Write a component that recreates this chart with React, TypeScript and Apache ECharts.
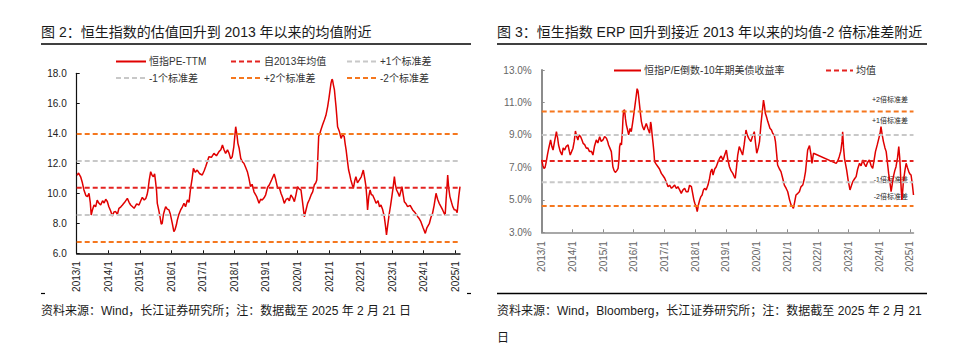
import React, { useEffect, useRef } from "react";
import * as echarts from "echarts";

// ---------- shared ----------
const yearTicks = [2013, 2014, 2015, 2016, 2017, 2018, 2019, 2020, 2021, 2022, 2023, 2024, 2025];

// ---------- chart 2 : HSI PE-TTM ----------
const peYears = [
  2013.01, 2013.06, 2013.125, 2013.18, 2013.23, 2013.29, 2013.34, 2013.39, 2013.43, 2013.46, 2013.5, 2013.55, 2013.6, 2013.65, 2013.7, 2013.76, 2013.82, 2013.87, 2013.92, 2013.97,
  2014.02, 2014.08, 2014.13, 2014.18, 2014.235, 2014.29, 2014.34, 2014.4, 2014.45, 2014.52, 2014.605, 2014.66, 2014.71, 2014.77, 2014.82, 2014.9, 2014.975,
  2015.03, 2015.08, 2015.14, 2015.19, 2015.23, 2015.26, 2015.3, 2015.345, 2015.39, 2015.43, 2015.47, 2015.5, 2015.53, 2015.555, 2015.6, 2015.64, 2015.68, 2015.71, 2015.75, 2015.79, 2015.82, 2015.87, 2015.925, 2015.97,
  2016.03, 2016.08, 2016.12, 2016.16, 2016.19, 2016.24, 2016.295, 2016.35, 2016.4, 2016.45, 2016.51, 2016.56, 2016.61, 2016.66, 2016.7, 2016.76, 2016.82, 2016.9, 2016.98,
  2017.04, 2017.09, 2017.14, 2017.19, 2017.27, 2017.35, 2017.43, 2017.51, 2017.57, 2017.62, 2017.67, 2017.72, 2017.78, 2017.83, 2017.88, 2017.93, 2017.98,
  2018.04, 2018.08, 2018.11, 2018.15, 2018.2, 2018.25, 2018.3, 2018.36, 2018.41, 2018.46, 2018.51, 2018.56, 2018.62, 2018.7, 2018.78, 2018.83, 2018.88, 2018.94, 2018.99,
  2019.05, 2019.105, 2019.18, 2019.26, 2019.31, 2019.37, 2019.42, 2019.475, 2019.53, 2019.58, 2019.64, 2019.69, 2019.74, 2019.79, 2019.85, 2019.9, 2019.95,
  2020.0, 2020.05, 2020.11, 2020.16, 2020.215, 2020.27, 2020.32, 2020.38, 2020.43, 2020.48, 2020.53, 2020.58, 2020.61, 2020.64, 2020.67, 2020.71, 2020.74, 2020.8, 2020.85, 2020.9, 2020.955,
  2021.0, 2021.06, 2021.09, 2021.11, 2021.14, 2021.17, 2021.2, 2021.22, 2021.25, 2021.27, 2021.33, 2021.38, 2021.43, 2021.48, 2021.51, 2021.54, 2021.58, 2021.62, 2021.66, 2021.69, 2021.73, 2021.77, 2021.81, 2021.85, 2021.9, 2021.96,
  2022.02, 2022.085, 2022.13, 2022.17, 2022.2, 2022.22, 2022.26, 2022.3, 2022.34, 2022.38, 2022.44, 2022.49, 2022.55, 2022.6, 2022.645, 2022.7, 2022.75, 2022.79, 2022.82, 2022.86, 2022.91, 2022.95, 2022.99,
  2023.03, 2023.07, 2023.1, 2023.14, 2023.19, 2023.23, 2023.27, 2023.31, 2023.35, 2023.385, 2023.44, 2023.49, 2023.57, 2023.65, 2023.73, 2023.81, 2023.86, 2023.91, 2023.98,
  2024.05, 2024.1, 2024.18, 2024.23, 2024.28, 2024.33, 2024.39, 2024.44, 2024.49, 2024.55, 2024.6, 2024.64, 2024.68, 2024.71, 2024.74, 2024.76, 2024.79, 2024.83, 2024.88, 2024.92, 2024.97,
  2025.02, 2025.06, 2025.11, 2025.15,
];
const peValues = [
  11.2, 11.35, 11.1, 10.7, 10.22, 9.85, 9.78, 10.0, 9.4, 8.55, 8.9, 9.22, 9.1, 9.55, 9.35, 9.22, 9.5, 9.35, 9.6, 9.45,
  9.1, 8.8, 8.49, 8.75, 8.78, 8.6, 9.0, 9.1, 9.22, 9.4, 9.66, 9.4, 9.22, 9.1, 9.0, 9.3, 9.22,
  9.5, 9.73, 9.55, 9.66, 9.9, 10.22, 10.9, 11.44, 11.2, 11.1, 11.3, 10.78, 10.2, 9.33, 8.9, 8.44, 7.95, 8.0, 8.6, 8.9, 9.1, 8.95, 8.89, 8.6,
  8.0, 7.44, 7.6, 7.9, 8.22, 8.6, 8.89, 9.1, 9.33, 9.1, 9.55, 9.4, 10.33, 11.0, 11.66, 11.4, 11.55, 11.3, 11.22,
  11.5, 11.78, 12.1, 12.44, 12.4, 12.66, 12.5, 12.78, 12.9, 13.22, 12.9, 12.66, 12.9, 12.66, 12.3, 12.44, 13.1,
  14.44, 13.9, 13.33, 13.0, 12.33, 12.1, 12.0, 11.7, 11.44, 11.0, 10.44, 10.6, 10.1, 9.8, 9.33, 9.6, 9.55, 9.7, 9.9,
  10.4, 10.55, 10.9, 11.29, 10.9, 10.33, 10.4, 10.0, 9.7, 9.33, 9.6, 9.67, 9.5, 9.89, 9.7, 9.44, 9.9,
  10.44, 10.3, 10.22, 9.4, 8.44, 8.9, 9.33, 9.6, 9.89, 10.1, 10.55, 10.7, 10.89, 12.2, 13.78, 14.0, 14.22, 14.6, 14.89, 15.2, 15.78,
  16.4, 17.33, 17.6, 17.55, 17.2, 16.89, 16.2, 15.78, 15.0, 14.44, 14.1, 13.66, 13.9, 13.78, 13.3, 12.89, 12.2, 11.55, 11.2, 10.89, 10.6, 10.33, 10.8, 11.11, 10.7, 10.89,
  11.1, 11.55, 11.0, 10.44, 9.6, 8.89, 9.8, 10.22, 9.9, 9.89, 9.6, 9.33, 9.5, 9.1, 9.22, 8.9, 8.44, 7.8, 7.22, 7.9, 8.67, 9.2, 9.78,
  10.4, 11.11, 10.6, 10.22, 10.0, 9.78, 10.1, 10.44, 9.9, 9.44, 9.3, 9.11, 9.2, 8.89, 8.7, 8.44, 8.3, 8.11, 7.7,
  7.33, 7.7, 8.0, 8.4, 8.67, 9.2, 10.0, 9.6, 9.33, 9.1, 8.89, 8.7, 8.55, 9.6, 10.5, 11.22, 10.4, 9.78, 9.4, 9.11, 8.9,
  8.89, 8.7, 9.78, 10.44,
];
const peMean = 10.37;
const pePlus1 = 12.15;
const peMinus1 = 8.55;
const pePlus2 = 13.95;
const peMinus2 = 6.75;
const peEnd = 2025.15;

// ---------- chart 3 : HSI ERP ----------
const erpYears = [
  2013.0, 2013.04, 2013.075, 2013.11, 2013.15, 2013.19, 2013.23, 2013.29, 2013.33, 2013.37, 2013.42, 2013.48, 2013.52, 2013.55, 2013.6, 2013.66, 2013.7, 2013.75, 2013.8, 2013.86, 2013.9, 2013.93, 2013.98,
  2014.02, 2014.06, 2014.1, 2014.14, 2014.18, 2014.22, 2014.27, 2014.31, 2014.35, 2014.4, 2014.455, 2014.5, 2014.56, 2014.62, 2014.67, 2014.72, 2014.78, 2014.83, 2014.89, 2014.94, 2014.998,
  2015.05, 2015.11, 2015.15, 2015.18, 2015.22, 2015.27, 2015.32, 2015.36, 2015.4, 2015.45, 2015.49, 2015.52, 2015.54, 2015.57, 2015.6, 2015.63, 2015.65, 2015.67, 2015.7, 2015.73, 2015.76, 2015.8, 2015.835, 2015.88, 2015.92, 2015.96,
  2016.0, 2016.04, 2016.085, 2016.11, 2016.14, 2016.17, 2016.19, 2016.22, 2016.25, 2016.29, 2016.335, 2016.37, 2016.41, 2016.46, 2016.52, 2016.55, 2016.57, 2016.6, 2016.63, 2016.66, 2016.68, 2016.73, 2016.79, 2016.84, 2016.9, 2016.95,
  2017.01, 2017.06, 2017.12, 2017.17, 2017.23, 2017.28, 2017.335, 2017.39, 2017.44, 2017.5, 2017.55, 2017.6, 2017.66, 2017.71, 2017.77, 2017.82, 2017.88, 2017.93, 2017.96, 2017.99,
  2018.03, 2018.07, 2018.11, 2018.15, 2018.19, 2018.23, 2018.27, 2018.31, 2018.36, 2018.42, 2018.47, 2018.51, 2018.55, 2018.585, 2018.64, 2018.69, 2018.74, 2018.8, 2018.85, 2018.91, 2018.97,
  2019.02, 2019.06, 2019.12, 2019.17, 2019.23, 2019.27, 2019.31, 2019.35, 2019.39, 2019.44, 2019.5, 2019.55, 2019.6, 2019.66, 2019.7, 2019.75, 2019.82, 2019.87, 2019.93, 2019.97,
  2020.01, 2020.06, 2020.1, 2020.15, 2020.2, 2020.23, 2020.26, 2020.29, 2020.33, 2020.37, 2020.41, 2020.44, 2020.49, 2020.53, 2020.58, 2020.62, 2020.66, 2020.69, 2020.75, 2020.8, 2020.86, 2020.91, 2020.97,
  2021.02, 2021.08, 2021.13, 2021.17, 2021.205, 2021.25, 2021.29, 2021.35, 2021.4, 2021.45, 2021.51, 2021.56, 2021.6, 2021.64, 2021.67, 2021.73, 2021.78, 2021.81, 2021.86,
  2022.6, 2022.65, 2022.7, 2022.75, 2022.79, 2022.81, 2022.84, 2022.87, 2022.94, 2022.99,
  2023.05, 2023.1, 2023.14, 2023.2, 2023.25, 2023.3, 2023.36, 2023.41, 2023.47, 2023.52, 2023.57, 2023.62, 2023.68, 2023.74, 2023.79, 2023.84, 2023.88, 2023.94, 2023.99,
  2024.03, 2024.06, 2024.1, 2024.14, 2024.19, 2024.23, 2024.27, 2024.31, 2024.35, 2024.39, 2024.43, 2024.465, 2024.51, 2024.55, 2024.6, 2024.64, 2024.67, 2024.69, 2024.71, 2024.74, 2024.77, 2024.79, 2024.84, 2024.88, 2024.92, 2024.965,
  2025.0, 2025.04, 2025.08, 2025.12,
];
const erpValues = [
  7.46, 7.1, 6.94, 7.0, 7.35, 7.8, 8.18, 8.69, 8.3, 8.07, 8.6, 9.2, 8.8, 8.38, 8.0, 7.76, 8.2, 8.07, 8.3, 8.38, 8.0, 7.76, 8.0,
  8.18, 8.6, 9.24, 8.9, 8.69, 9.0, 8.89, 8.7, 8.48, 8.4, 8.18, 8.2, 7.97, 8.0, 7.76, 8.3, 8.69, 8.5, 8.89, 8.6, 8.69,
  8.9, 8.79, 8.6, 8.38, 8.2, 7.97, 7.04, 6.8, 6.69, 6.8, 6.94, 7.5, 8.28, 8.5, 8.38, 9.2, 10.02, 10.5, 10.54, 10.0, 9.61, 9.3, 9.0, 9.4, 9.2, 9.7,
  10.23, 10.8, 11.46, 11.85, 11.7, 11.2, 10.84, 10.3, 9.82, 9.5, 9.3, 9.5, 9.71, 9.4, 9.1, 9.8, 9.61, 9.0, 8.48, 7.9, 7.35, 7.2, 7.04, 6.9, 6.63, 6.5,
  6.33, 6.1, 5.81, 5.9, 5.71, 5.8, 5.91, 5.7, 5.81, 5.6, 5.4, 5.6, 5.71, 5.5, 5.5, 5.9, 5.81, 5.3, 5.0, 4.79,
  4.6, 4.27, 4.7, 4.99, 5.2, 5.3, 5.6, 5.71, 5.6, 5.91, 6.3, 6.74, 6.9, 6.53, 6.9, 7.04, 7.3, 7.56, 7.7, 7.45, 7.8,
  8.07, 7.56, 7.04, 6.8, 6.63, 6.45, 6.33, 7.0, 7.76, 8.28, 8.0, 7.76, 8.4, 9.3, 9.0, 8.79, 8.59, 8.9, 9.2, 8.5,
  7.87, 8.2, 8.59, 9.71, 10.6, 11.15, 10.8, 10.33, 10.1, 9.82, 9.6, 9.41, 9.3, 9.1, 9.0, 8.59, 7.8, 7.15, 6.9, 6.74, 6.3, 5.91, 5.7,
  5.5, 5.0, 4.68, 4.6, 4.48, 4.9, 5.3, 5.4, 5.5, 5.8, 5.91, 6.3, 6.74, 7.5, 8.07, 8.34, 7.76, 7.25, 7.87,
  7.25, 7.4, 7.66, 8.0, 8.6, 9.2, 8.2, 7.56, 6.84, 6.2,
  5.61, 5.9, 6.12, 6.3, 6.43, 6.9, 7.25, 7.1, 7.45, 7.2, 7.04, 7.3, 7.45, 7.1, 6.94, 7.5, 7.97, 8.4, 8.79,
  9.1, 9.51, 9.0, 8.59, 8.2, 7.97, 7.3, 6.63, 6.1, 5.5, 6.0, 6.43, 6.8, 7.04, 7.6, 8.28, 7.6, 6.94, 6.0, 4.99, 5.6, 6.12, 6.8, 7.25, 7.0, 6.74,
  6.6, 6.53, 6.0, 5.3,
];
const erpMean = 7.4;
const erpPlus1 = 9.0;
const erpMinus1 = 6.08;
const erpPlus2 = 10.45;
const erpMinus2 = 4.62;
const erpEnd = 2025.12;

const FONT = '"Liberation Sans", Arial, "Noto Sans CJK SC", sans-serif';
const RED = "#E00000";
const MEAN_RED = "#E42320";
const GREY = "#C8C8C8";
const ORANGE = "#F5771E";

function refLine(name: string, value: number, start: number, end: number, color: string, axis: number) {
  return {
    name,
    type: "line",
    xAxisIndex: axis,
    yAxisIndex: axis,
    data: [[start, value], [end, value]],
    symbol: "none",
    silent: true,
    z: 3,
    lineStyle: { color, width: 2, type: [5, 3] },
    itemStyle: { color },
  };
}

function legendAt(name: string, left: number, top: number, w: number) {
  return {
    data: [name],
    left,
    top,
    itemWidth: w,
    itemHeight: 10,
    itemGap: 0,
    padding: 0,
    selectedMode: false,
    itemStyle: { color: "rgba(0,0,0,0)", borderColor: "rgba(0,0,0,0)", borderWidth: 0, opacity: 0 },
    textStyle: { fontSize: 10, color: "#333", fontFamily: FONT, padding: [0, 0, 0, -2] },
  };
}

export default function App() {
  const ref = useRef<HTMLDivElement>(null);
  useEffect(() => {
    if (!ref.current) return;
    const chart = echarts.init(ref.current, null, { renderer: "svg" });

    const peData = peYears.map((y, i) => [y, peValues[i]]);
    const erpData = erpYears.map((y, i) => [y, erpValues[i]]);

    const option: any = {
      animation: false,
      textStyle: { fontFamily: FONT },
      grid: [
        { left: 76.7, top: 73.3, width: 383.3, height: 180 },
        { left: 541.7, top: 70, width: 371.8, height: 162.3 },
      ],
      xAxis: [
        {
          type: "value",
          gridIndex: 0,
          min: 2013,
          max: peEnd,
          splitLine: { show: false },
          axisLine: { show: true, lineStyle: { color: "#111", width: 1.5 } },
          axisTick: { show: true, inside: true, length: 3, customValues: yearTicks, lineStyle: { color: "#111" } },
          axisLabel: {
            customValues: yearTicks,
            rotate: 90,
            margin: 8,
            fontSize: 10,
            color: "#222",
            formatter: (v: number) => `${Math.round(v)}/1`,
          },
        },
        {
          type: "value",
          gridIndex: 1,
          min: 2013,
          max: erpEnd,
          splitLine: { show: false },
          axisLine: { show: true, lineStyle: { color: "#8C8C8C", width: 1.5 } },
          axisTick: { show: true, inside: true, length: 3, customValues: yearTicks, lineStyle: { color: "#8C8C8C" } },
          axisLabel: {
            customValues: yearTicks,
            rotate: 90,
            margin: 9,
            fontSize: 10,
            color: "#666",
            formatter: (v: number) => `${Math.round(v)}/1`,
          },
        },
      ],
      yAxis: [
        {
          type: "value",
          gridIndex: 0,
          min: 6,
          max: 18,
          interval: 2,
          splitLine: { show: false },
          axisLine: { show: true, lineStyle: { color: "#111", width: 1.2 } },
          axisTick: { show: true, inside: true, length: 3, lineStyle: { color: "#111" } },
          axisLabel: { fontSize: 10, color: "#222", margin: 10, formatter: (v: number) => v.toFixed(1) },
        },
        {
          type: "value",
          gridIndex: 1,
          min: 3,
          max: 13,
          interval: 2,
          splitLine: { show: false },
          axisLine: { show: true, lineStyle: { color: "#8C8C8C", width: 2 } },
          axisTick: { show: true, inside: true, length: 3, lineStyle: { color: "#8C8C8C" } },
          axisLabel: { fontSize: 10, color: "#666", margin: 10, formatter: (v: number) => v.toFixed(1) + "%" },
        },
      ],
      legend: [
        legendAt("恒指PE-TTM", 115, 56.5, 30),
        legendAt("自2013年均值", 230, 56.5, 30),
        legendAt("+1个标准差", 346, 56.5, 30),
        legendAt("-1个标准差", 115, 73, 30),
        legendAt("+2个标准差", 230, 73, 30),
        legendAt("-2个标准差", 346, 73, 30),
        legendAt("恒指P/E倒数-10年期美债收益率", 613, 65.5, 27),
        legendAt("均值", 825, 65.5, 27),
      ],
      series: [
        {
          name: "恒指PE-TTM",
          type: "line",
          xAxisIndex: 0,
          yAxisIndex: 0,
          data: peData,
          symbol: "none",
          z: 2,
          lineStyle: { color: RED, width: 1.5 },
          itemStyle: { color: RED },
        },
        refLine("自2013年均值", peMean, 2013, peEnd, MEAN_RED, 0),
        refLine("+1个标准差", pePlus1, 2013, peEnd, GREY, 0),
        refLine("-1个标准差", peMinus1, 2013, peEnd, GREY, 0),
        refLine("+2个标准差", pePlus2, 2013, peEnd, ORANGE, 0),
        refLine("-2个标准差", peMinus2, 2013, peEnd, ORANGE, 0),
        {
          name: "恒指P/E倒数-10年期美债收益率",
          type: "line",
          xAxisIndex: 1,
          yAxisIndex: 1,
          data: erpData,
          symbol: "none",
          z: 2,
          lineStyle: { color: RED, width: 1.5 },
          itemStyle: { color: RED },
        },
        refLine("均值", erpMean, 2013, erpEnd, MEAN_RED, 1),
        refLine("+1倍标准差", erpPlus1, 2013, erpEnd, GREY, 1),
        refLine("-1倍标准差", erpMinus1, 2013, erpEnd, GREY, 1),
        refLine("+2倍标准差", erpPlus2, 2013, erpEnd, ORANGE, 1),
        refLine("-2倍标准差", erpMinus2, 2013, erpEnd, ORANGE, 1),
      ],
      graphic: [
        { type: "text", left: 41, top: 25, style: { text: "图 2：恒生指数的估值回升到 2013 年以来的均值附近", font: `14px ${FONT}`, fill: "#1a1a1a" } },
        { type: "line", shape: { x1: 41, y1: 44, x2: 471, y2: 44 }, style: { stroke: "#000", lineWidth: 1.5 } },
        { type: "line", shape: { x1: 41, y1: 293.5, x2: 45, y2: 293.5 }, style: { stroke: "#000", lineWidth: 1.2 } },
        { type: "line", shape: { x1: 467, y1: 293.5, x2: 471, y2: 293.5 }, style: { stroke: "#000", lineWidth: 1.2 } },
        { type: "text", left: 41, top: 304.5, style: { text: "资料来源：Wind，长江证券研究所；注：数据截至 2025 年 2 月 21 日", font: `12px ${FONT}`, fill: "#1a1a1a" } },

        { type: "text", left: 497, top: 25, style: { text: "图 3：恒生指数 ERP 回升到接近 2013 年以来的均值-2 倍标准差附近", font: `14px ${FONT}`, fill: "#1a1a1a" } },
        { type: "line", shape: { x1: 497, y1: 44, x2: 927, y2: 44 }, style: { stroke: "#000", lineWidth: 1.5 } },
        { type: "line", shape: { x1: 497, y1: 293.5, x2: 927, y2: 293.5 }, style: { stroke: "#000", lineWidth: 1.5 } },
        { type: "text", left: 497, top: 304.5, style: { text: "资料来源：Wind，Bloomberg，长江证券研究所；注：数据截至 2025 年 2 月 21", font: `12px ${FONT}`, fill: "#1a1a1a" } },
        { type: "text", left: 497, top: 331.5, style: { text: "日", font: `12px ${FONT}`, fill: "#1a1a1a" } },

        { type: "text", x: 908, y: 99, style: { text: "+2倍标准差", font: `7px ${FONT}`, fill: "#222", align: "right", verticalAlign: "middle" } },
        { type: "text", x: 908, y: 120.5, style: { text: "+1倍标准差", font: `7px ${FONT}`, fill: "#222", align: "right", verticalAlign: "middle" } },
        { type: "text", x: 908, y: 179.5, style: { text: "-1倍标准差", font: `7px ${FONT}`, fill: "#222", align: "right", verticalAlign: "middle" } },
        { type: "text", x: 908, y: 196, style: { text: "-2倍标准差", font: `7px ${FONT}`, fill: "#222", align: "right", verticalAlign: "middle" } },
      ],
    };
    chart.setOption(option);
    return () => chart.dispose();
  }, []);

  return <div ref={ref} style={{ position: "absolute", left: 0, top: 0, width: 965, height: 364, background: "#fff" }} />;
}
